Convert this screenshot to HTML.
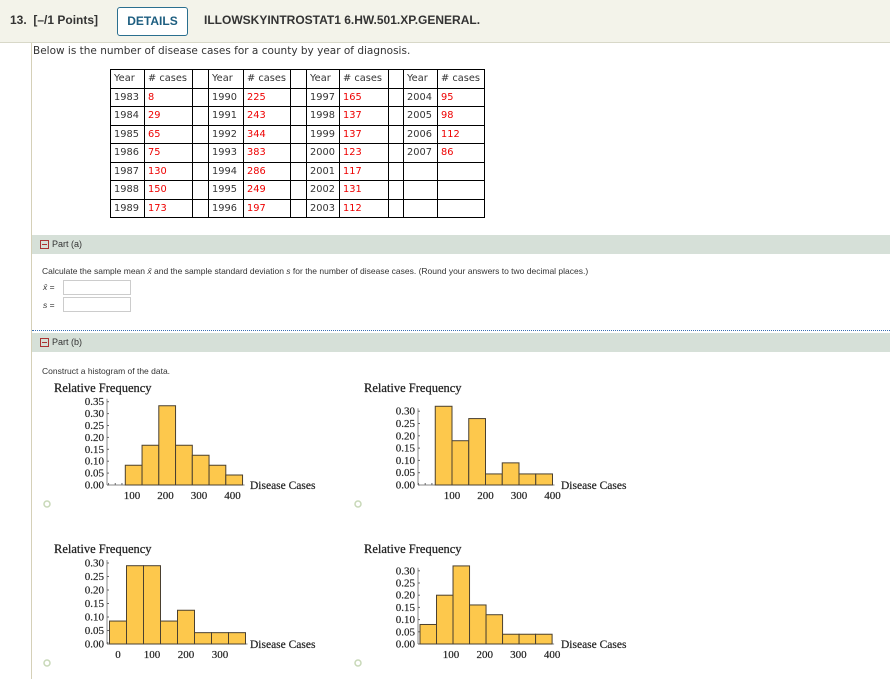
<!DOCTYPE html>
<html><head><meta charset="utf-8">
<style>
body{margin:0;width:890px;height:679px;overflow:hidden;background:#fff;font-family:"Liberation Sans",sans-serif;position:relative}
.abs{position:absolute}
#hdr{left:0;top:0;width:890px;height:42px;background:#f3f3ea;border-bottom:1px solid #d8d8c8}
#vline{left:31px;top:43px;width:1px;height:636px;background:#d5d0b8}
table{border-collapse:collapse;position:absolute;left:110px;top:69px;font-size:9.8px;font-family:"DejaVu Sans",sans-serif;table-layout:fixed;width:375px}
td{border:1.5px solid #000;height:17.5px;padding:0 0 0 3px;color:#333;white-space:nowrap;overflow:hidden}
td.r{color:#e00}
.bar{left:32px;width:858px;height:19px;background:#d6e0d8}
.pt{font-size:9px;color:#333;top:4px;left:8px}
.box{display:inline-block;width:7px;height:7px;border:1px solid #a33;vertical-align:middle;margin-right:3px;position:relative}
.box:after{content:"";position:absolute;left:1px;top:3px;width:5px;height:1px;background:#a33}
.inp{width:66px;height:13px;border:1px solid #ccc;background:#fff}
.sm{font-size:8.5px;color:#333}
</style></head><body>
<div id="hdr" class="abs">
 <span class="abs" style="left:10px;top:13px;font-size:12px;font-weight:bold;color:#333">13.&nbsp; [–/1 Points]</span>
 <div class="abs" style="left:117px;top:7px;width:69px;height:27px;border:1px solid #2a6f8f;border-radius:3px;color:#1d5e80;font-size:12px;font-weight:bold;text-align:center;line-height:26px;background:#fff">DETAILS</div>
 <span class="abs" style="left:204px;top:13px;font-size:12px;font-weight:bold;color:#333">ILLOWSKYINTROSTAT1 6.HW.501.XP.GENERAL.</span>
</div>
<div id="vline" class="abs"></div>
<div class="abs" style="left:33px;top:45px;font-size:10.5px;color:#333;font-family:'DejaVu Sans',sans-serif">Below is the number of disease cases for a county by year of diagnosis.</div>
<table>
<colgroup><col style="width:34px"><col style="width:48px"><col style="width:16px"><col style="width:35px"><col style="width:47px"><col style="width:16px"><col style="width:33px"><col style="width:49px"><col style="width:15px"><col style="width:34px"><col style="width:47px"></colgroup>
<tr><td>Year</td><td># cases</td><td></td><td>Year</td><td># cases</td><td></td><td>Year</td><td># cases</td><td></td><td>Year</td><td># cases</td></tr>
<tr><td>1983</td><td class="r">8</td><td></td><td>1990</td><td class="r">225</td><td></td><td>1997</td><td class="r">165</td><td></td><td>2004</td><td class="r">95</td></tr>
<tr><td>1984</td><td class="r">29</td><td></td><td>1991</td><td class="r">243</td><td></td><td>1998</td><td class="r">137</td><td></td><td>2005</td><td class="r">98</td></tr>
<tr><td>1985</td><td class="r">65</td><td></td><td>1992</td><td class="r">344</td><td></td><td>1999</td><td class="r">137</td><td></td><td>2006</td><td class="r">112</td></tr>
<tr><td>1986</td><td class="r">75</td><td></td><td>1993</td><td class="r">383</td><td></td><td>2000</td><td class="r">123</td><td></td><td>2007</td><td class="r">86</td></tr>
<tr><td>1987</td><td class="r">130</td><td></td><td>1994</td><td class="r">286</td><td></td><td>2001</td><td class="r">117</td><td></td><td></td><td></td></tr>
<tr><td>1988</td><td class="r">150</td><td></td><td>1995</td><td class="r">249</td><td></td><td>2002</td><td class="r">131</td><td></td><td></td><td></td></tr>
<tr><td>1989</td><td class="r">173</td><td></td><td>1996</td><td class="r">197</td><td></td><td>2003</td><td class="r">112</td><td></td><td></td><td></td></tr>
</table>
<div class="abs bar" style="top:235px"><span class="abs pt"><span class="box"></span>Part (a)</span></div>
<div class="abs sm" style="left:42px;top:266px">Calculate the sample mean <i>x̄</i> and the sample standard deviation <i>s</i> for the number of disease cases. (Round your answers to two decimal places.)</div>
<div class="abs sm" style="left:43px;top:282px"><i>x̄</i> =</div>
<div class="abs inp" style="left:63px;top:280px"></div>
<div class="abs sm" style="left:43px;top:300px"><i>s</i> =</div>
<div class="abs inp" style="left:63px;top:297px"></div>
<div class="abs" style="left:32px;top:330px;width:858px;border-top:1px dotted #3a6fb0"></div>
<div class="abs bar" style="top:333px"><span class="abs pt"><span class="box"></span>Part (b)</span></div>
<div class="abs sm" style="left:42px;top:366px">Construct a histogram of the data.</div>
<svg id="charts" class="abs" style="left:0;top:0" width="890" height="679"></svg>
<script>
// Option A
const aStart = 80, aWidth = 50;
const aValues = [0.083, 0.167, 0.333, 0.167, 0.125, 0.083, 0.042];
const aYTicks = ["0.00","0.05","0.10","0.15","0.20","0.25","0.30","0.35"];
const aXTicks = [100, 200, 300, 400];
// Option B
const bStart = 50, bWidth = 50;
const bValues = [0.32, 0.18, 0.27, 0.045, 0.09, 0.045, 0.045];
const bYTicks = ["0.00","0.05","0.10","0.15","0.20","0.25","0.30"];
const bXTicks = [100, 200, 300, 400];
// Option C
const cStart = -25, cWidth = 50;
const cValues = [0.085, 0.29, 0.29, 0.085, 0.125, 0.042, 0.042, 0.042];
const cYTicks = ["0.00","0.05","0.10","0.15","0.20","0.25","0.30"];
const cXTicks = [0, 100, 200, 300];
// Option D
const dStart = 8, dWidth = 49;
const dValues = [0.08, 0.2, 0.32, 0.16, 0.12, 0.04, 0.04, 0.04];
const dYTicks = ["0.00","0.05","0.10","0.15","0.20","0.25","0.30"];
const dXTicks = [100, 200, 300, 400];

const NS = "http://www.w3.org/2000/svg";
const svg = document.getElementById("charts");
function mk(tag, attrs, parent, text){
  const e = document.createElementNS(NS, tag);
  for (const k in attrs) e.setAttribute(k, attrs[k]);
  if (text !== undefined) e.textContent = text;
  parent.appendChild(e); return e;
}
function chart(id, cfg, start, width, values, yTicks, xTicks){
  const g = mk("g", {}, svg);
  
  
  const X = v => cfg.x100 + (v - 100) * cfg.px;
  const Y = v => cfg.y0 - v / 0.05 * cfg.py;
  const t = mk("text", {x: cfg.titleX, y: cfg.titleY, "font-family": "Liberation Serif, serif", "font-size": 12.5, fill: "#222", stroke: "#222", "stroke-width": 0.25}, g, "Relative Frequency");
  
  
  const top = Y(parseFloat(yTicks[yTicks.length - 1])) - 3;
  mk("line", {x1: cfg.ax, y1: top, x2: cfg.ax, y2: cfg.y0, stroke: "#888", "stroke-width": 1}, g);
  mk("line", {x1: cfg.ax, y1: cfg.y0, x2: X(start + width * values.length) + 2, y2: cfg.y0, stroke: "#888", "stroke-width": 1}, g);
  yTicks.forEach(s => {
    const yy = Y(parseFloat(s));
    mk("line", {x1: cfg.ax, y1: yy, x2: cfg.ax + 2, y2: yy, stroke: "#666"}, g);
    const l = mk("text", {x: cfg.ax - 3, y: yy + 3.5, "text-anchor": "end", "font-family": "Liberation Serif, serif", "font-size": 11, fill: "#222", stroke: "#222", "stroke-width": 0.2}, g, s);
    
    
  });
  for (let v = Math.ceil((cfg.ax - cfg.x100) / cfg.px / 10) * 10 + 100; X(v) < X(start + width * values.length); v += 20) {
    mk("line", {x1: X(v), y1: cfg.y0, x2: X(v), y2: cfg.y0 - 2, stroke: "#666"}, g);
  }
  values.forEach((v, i) => {
    const x1 = X(start + i * width), x2 = X(start + (i + 1) * width);
    const r = mk("rect", {x: x1, y: Y(v), width: x2 - x1, height: cfg.y0 - Y(v), fill: "#fdc84c", stroke: "#4a4030", "stroke-width": 1}, g);
    
    
  });
  xTicks.forEach(v => {
    const l = mk("text", {x: X(v), y: cfg.y0 + 14, "text-anchor": "middle", "font-family": "Liberation Serif, serif", "font-size": 11, fill: "#222", stroke: "#222", "stroke-width": 0.2}, g, String(v));
    
    
  });
  const xt = mk("text", {x: cfg.xtX, y: cfg.y0 + 4, "font-family": "Liberation Serif, serif", "font-size": 11.5, fill: "#222", stroke: "#222", "stroke-width": 0.2}, g, "Disease Cases");
  
  
  const rb = mk("circle", {cx: cfg.rx, cy: cfg.y0 + 19, r: 3, fill: "#fff", stroke: "#c8d8b8", "stroke-width": 1.5}, g);
  
  
}
chart("a", {ax:107, y0:485, py:11.9, x100:132, px:0.335, titleX:54, titleY:392, xtX:250, rx:47}, aStart, aWidth, aValues, aYTicks, aXTicks);
chart("b", {ax:418, y0:485, py:12.3, x100:452, px:0.335, titleX:364, titleY:392, xtX:561, rx:358}, bStart, bWidth, bValues, bYTicks, bXTicks);
chart("c", {ax:107, y0:644, py:13.5, x100:152, px:0.34, titleX:54, titleY:553, xtX:250, rx:47}, cStart, cWidth, cValues, cYTicks, cXTicks);
chart("d", {ax:418, y0:644, py:12.2, x100:451, px:0.337, titleX:364, titleY:553, xtX:561, rx:358}, dStart, dWidth, dValues, dYTicks, dXTicks);
</script>
</body></html>
